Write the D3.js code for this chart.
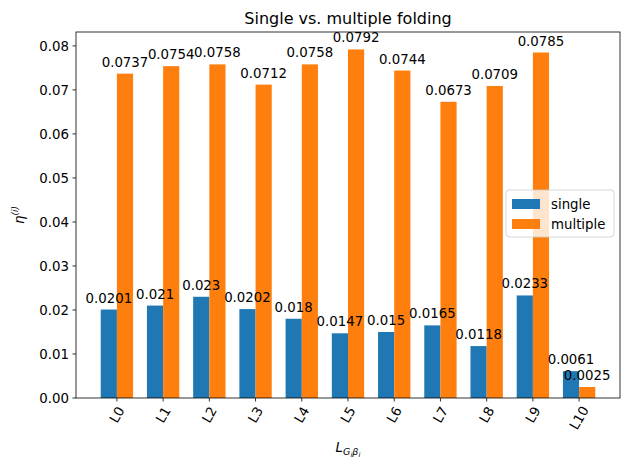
<!DOCTYPE html>
<html>
<head>
<meta charset="utf-8">
<script src="https://cdn.jsdelivr.net/npm/d3@7"></script>
<style>
  body { margin: 0; background: #fff; }
  text { font-family: "DejaVu Sans", sans-serif; }
</style>
</head>
<body>
<svg id="chart"></svg>
<script>
// chart data
const categories = ['L0', 'L1', 'L2', 'L3', 'L4', 'L5', 'L6', 'L7', 'L8', 'L9', 'L10'];
const single = [0.0201, 0.021, 0.023, 0.0202, 0.018, 0.0147, 0.015, 0.0165, 0.0118, 0.0233, 0.0061];
const multiple = [0.0737, 0.0754, 0.0758, 0.0712, 0.0758, 0.0792, 0.0744, 0.0673, 0.0709, 0.0785, 0.0025];
const yTicks = [0, 0.01, 0.02, 0.03, 0.04, 0.05, 0.06, 0.07, 0.08];

const width = 630, height = 470;
const axL = 76, axR = 620, axT = 32, axB = 398;
const barW = 0.35;
const blue = '#1f77b4', orange = '#ff7f0e';

const svg = d3.select('#chart').attr('width', width).attr('height', height);

const x = d3.scaleLinear().domain([-0.5 - 0.385, 10.5 + 0.385]).range([axL, axR]);
const y = d3.scaleLinear().domain([0, 0.0792 * 1.05]).range([axB, axT]);

const series = [
  { name: 'single', values: single, color: blue, off: -barW / 2 },
  { name: 'multiple', values: multiple, color: orange, off: barW / 2 }
];

// bars first, labels on top of all bars (like matplotlib zorder)
const barLayer = svg.append('g');
const labelLayer = svg.append('g');

series.forEach(s => {
  barLayer.append('g').selectAll('rect')
    .data(s.values)
    .enter()
    .append('rect')
    .attr('x', (d, i) => x(i + s.off - barW / 2))
    .attr('width', (d, i) => x(i + s.off + barW / 2) - x(i + s.off - barW / 2))
    .attr('y', d => y(d))
    .attr('height', d => y(0) - y(d))
    .attr('fill', s.color);

  labelLayer.append('g').selectAll('text')
    .data(s.values)
    .enter()
    .append('text')
    .attr('x', (d, i) => x(i + s.off))
    .attr('y', d => y(d) - 7)
    .attr('text-anchor', 'middle')
    .attr('font-size', '13.33px')
    .attr('fill', '#000')
    .text(d => String(d));
});

// y axis
const yAxis = svg.append('g');
yTicks.forEach(t => {
  yAxis.append('line')
    .attr('x1', axL - 3.5).attr('x2', axL)
    .attr('y1', y(t)).attr('y2', y(t))
    .attr('stroke', '#000').attr('stroke-width', 0.8);
  yAxis.append('text')
    .attr('x', axL - 7)
    .attr('y', y(t))
    .attr('dy', '0.35em')
    .attr('text-anchor', 'end')
    .attr('font-size', '13.33px')
    .text(d3.format('.2f')(t));
});

// x axis
const xAxis = svg.append('g');
categories.forEach((c, i) => {
  xAxis.append('line')
    .attr('x1', x(i)).attr('x2', x(i))
    .attr('y1', axB).attr('y2', axB + 3.5)
    .attr('stroke', '#000').attr('stroke-width', 0.8);
  // rotated label, bbox centered under the tick (matplotlib ha=center)
  const w = c.length * 7.3 + 0.5, h = 13;
  const bh = w * Math.sin(Math.PI / 3) + h * Math.cos(Math.PI / 3);
  const cx = x(i), cy = axB + 7 + bh / 2;
  xAxis.append('text')
    .attr('x', cx).attr('y', cy)
    .attr('dy', '0.35em')
    .attr('text-anchor', 'middle')
    .attr('font-size', '13.33px')
    .attr('transform', `rotate(-60, ${cx}, ${cy})`)
    .text(c);
});

// frame
svg.append('rect')
  .attr('x', axL).attr('y', axT)
  .attr('width', axR - axL).attr('height', axB - axT)
  .attr('fill', 'none').attr('stroke', '#000').attr('stroke-width', 0.8);

// title
svg.append('text')
  .attr('x', (axL + axR) / 2).attr('y', 24)
  .attr('text-anchor', 'middle')
  .attr('font-size', '16px')
  .text('Single vs. multiple folding');

// x label: L_{G_i beta_i}
const xl = svg.append('text')
  .attr('x', (axL + axR) / 2).attr('y', 452)
  .attr('text-anchor', 'middle')
  .attr('font-size', '13.33px')
  .attr('font-style', 'italic');
xl.append('tspan').text('L');
xl.append('tspan').attr('font-size', '9.5px').attr('dy', 2.5).text('G');
xl.append('tspan').attr('font-size', '7px').attr('dy', 2).text('i');
xl.append('tspan').attr('font-size', '9.5px').attr('dy', -2).text('β');
xl.append('tspan').attr('font-size', '7px').attr('dy', 2).text('i');

// y label: eta^(i)
const yl = svg.append('text')
  .attr('transform', 'translate(24, 215) rotate(-90)')
  .attr('text-anchor', 'middle')
  .attr('font-size', '13.33px')
  .attr('font-style', 'italic');
yl.append('tspan').text('η');
yl.append('tspan').attr('font-size', '9px').attr('dy', -6).text('(i)');

// legend
const lg = svg.append('g').attr('transform', 'translate(506, 190)');
lg.append('rect')
  .attr('width', 108).attr('height', 47).attr('rx', 3)
  .attr('fill', '#fff').attr('fill-opacity', 0.8)
  .attr('stroke', '#ccc').attr('stroke-width', 0.8);
series.forEach((s, i) => {
  lg.append('rect')
    .attr('x', 6).attr('y', 9 + i * 20)
    .attr('width', 28).attr('height', 10)
    .attr('fill', s.color);
  lg.append('text')
    .attr('x', 45).attr('y', 14 + i * 20)
    .attr('dy', '0.35em')
    .attr('font-size', '13.33px')
    .text(s.name);
});
</script>
</body>
</html>
